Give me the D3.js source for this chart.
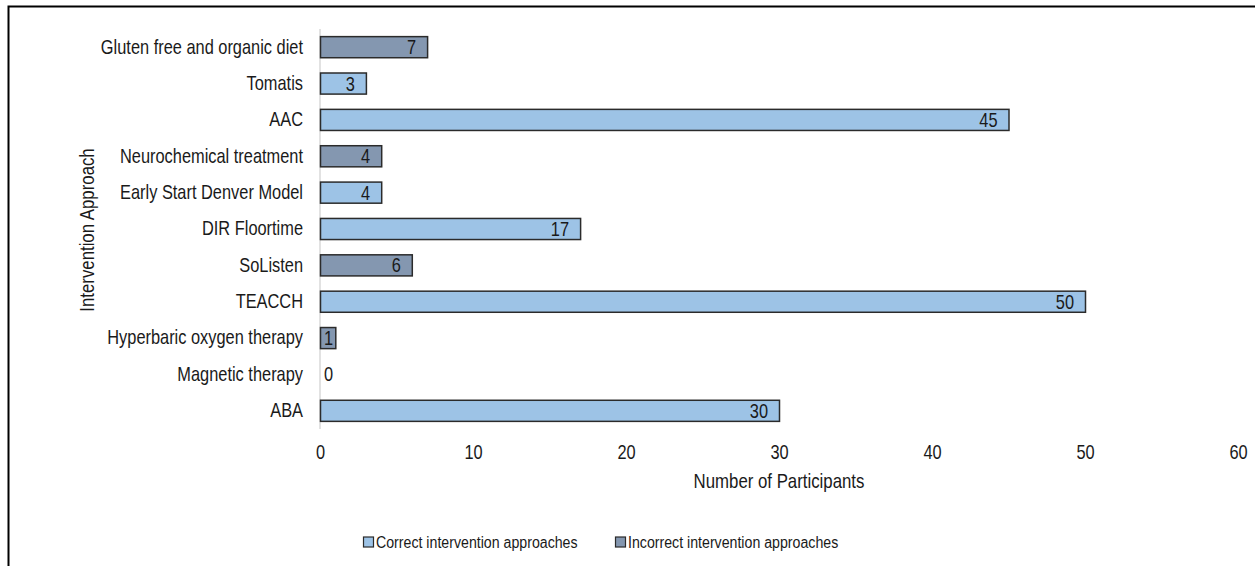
<!DOCTYPE html>
<html><head><meta charset="utf-8">
<script src="https://cdn.jsdelivr.net/npm/d3@7"></script>
<style>
html,body{margin:0;padding:0;background:#fff;}
svg{display:block;}
text{font-family:"Liberation Sans",Arial,sans-serif;fill:#1a1a1a;}
</style></head>
<body>
<svg id="chart" width="1255" height="566"></svg>
<script>
const categories = ["Gluten free and organic diet","Tomatis","AAC","Neurochemical treatment","Early Start Denver Model","DIR Floortime","SoListen","TEACCH","Hyperbaric oxygen therapy","Magnetic therapy","ABA"];
const values = [7,3,45,4,4,17,6,50,1,0,30];
const groups = ["incorrect","correct","correct","incorrect","correct","correct","incorrect","correct","incorrect","incorrect","correct"];
const seriesNames = ["Correct intervention approaches","Incorrect intervention approaches"];
const seriesKeys = ["correct","incorrect"];
const xTicks = [0,10,20,30,40,50,60];
const xTitle = "Number of Participants";
const yTitle = "Intervention Approach";

const colors = {correct:"#9dc3e6", incorrect:"#8497b0"};
const NARROW = 0.82;
const svg = d3.select("#chart");

// frame
svg.append("path").attr("d","M8.5,566 L8.5,6.5 L1255,6.5").attr("fill","none").attr("stroke","#000").attr("stroke-width",2);

const x = d3.scaleLinear().domain([0,60]).range([320,1238]);
const y = d3.scaleBand().domain(categories).range([29,429]).paddingInner(0.42).paddingOuter(0.21);

// vertical axis line
svg.append("line").attr("x1",x(0)).attr("x2",x(0)).attr("y1",29).attr("y2",429).attr("stroke","#d9d9d9").attr("stroke-width",1.5);

// x axis tick labels
const xAxis = d3.axisBottom(x).tickValues(xTicks).tickSize(0).tickPadding(0);
const gx = svg.append("g").attr("transform","translate(0,452)").call(xAxis);
gx.select(".domain").remove();
gx.selectAll("text").attr("font-size",20).attr("y",0).attr("dy","0.35em").attr("fill","#1a1a1a").attr("font-family",null)
  .attr("transform",`scale(${NARROW},1)`);

// y axis labels
const yAxis = d3.axisLeft(y).tickSize(0).tickPadding(0);
const gy = svg.append("g").attr("transform","translate(303,0)").call(yAxis);
gy.select(".domain").remove();
gy.selectAll("text").attr("font-size",20).attr("x",0).attr("fill","#1a1a1a").attr("font-family",null)
  .attr("transform",`scale(${NARROW},1)`);

// bars
svg.append("g").selectAll("rect").data(categories).join("rect")
  .attr("x",x(0)+0.5)
  .attr("y",(d)=>y(d))
  .attr("width",(d,i)=>Math.max(0,x(values[i])-x(0)))
  .attr("height",y.bandwidth())
  .attr("fill",(d,i)=>colors[groups[i]])
  .attr("stroke","#2b2b2b")
  .attr("stroke-width",1.5)
  .style("display",(d,i)=>values[i]>0?null:"none");

// value labels
svg.append("g").selectAll("text").data(categories).join("text")
  .attr("font-size",20)
  .attr("dy","0.35em")
  .each(function(d,i){
    const v = values[i];
    const cy = y(d)+y.bandwidth()/2;
    let px, anchor;
    if(v===0){ px = x(0)+4; anchor="start"; }
    else if(x(v)-x(0) < 30){ px=(x(0)+x(v))/2+1; anchor="middle"; }
    else { px = x(v)-11; anchor="end"; }
    d3.select(this).text(v).attr("text-anchor",anchor)
      .attr("transform",`translate(${px},${cy}) scale(${NARROW},1)`);
  });

// axis titles
svg.append("text").attr("transform",`translate(779,481) scale(${NARROW},1)`).attr("dy","0.35em").attr("text-anchor","middle").attr("font-size",20.5).text(xTitle);
svg.append("text").attr("transform",`translate(87,230) rotate(-90) scale(${NARROW},1)`).attr("dy","0.35em").attr("text-anchor","middle").attr("font-size",20.5).text(yTitle);

// legend
const legendX = [363,615];
const lg = svg.append("g").selectAll("g").data(seriesKeys).join("g")
  .attr("transform",(d,i)=>`translate(${legendX[i]},542)`);
lg.append("rect").attr("x",0.5).attr("y",-5).attr("width",10).attr("height",10)
  .attr("fill",d=>colors[d]).attr("stroke","#2b2b2b").attr("stroke-width",1.2);
lg.append("text").attr("transform",`translate(13,0) scale(${NARROW},1)`).attr("dy","0.35em").attr("font-size",17.3).text((d,i)=>seriesNames[i]);
</script>
</body></html>
